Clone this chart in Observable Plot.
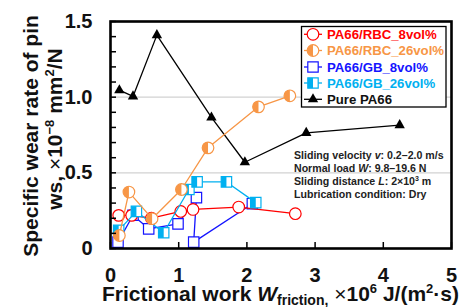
<!DOCTYPE html>
<html><head><meta charset="utf-8">
<script src="https://cdn.jsdelivr.net/npm/d3@7"></script>
<script src="https://cdn.jsdelivr.net/npm/@observablehq/plot@0.6"></script>
<style>
body{margin:0;background:#fff;}
#chart svg{display:block;}
</style>
</head><body><div id="chart"></div>
<script>
// ---- data ----
const seriesNames = ["PA66/RBC_8vol%", "PA66/RBC_26vol%", "PA66/GB_8vol%", "PA66/GB_26vol%", "Pure PA66"];
const seriesColors = ["#ff0000", "#f79646", "#1414ff", "#00b0f0", "#000000"];

const rbc8X  = [0.12, 0.31, 0.60, 1.03, 1.21, 1.88, 2.71];
const rbc8Y  = [0.219, 0.219, 0.200, 0.245, 0.258, 0.274, 0.230];
const rbc26X = [0.13, 0.27, 0.61, 1.04, 1.43, 2.17, 2.63];
const rbc26Y = [0.086, 0.373, 0.197, 0.390, 0.665, 0.936, 1.009];
const gb8X   = [0.11, 0.33, 0.56, 0.99, 1.26, 1.22, 2.08];
const gb8Y   = [0.042, 0.220, 0.130, 0.163, 0.336, 0.042, 0.296];
const gb26X  = [0.12, 0.38, 0.78, 1.15, 1.27, 1.70, 2.13];
const gb26Y  = [0.120, 0.245, 0.104, 0.390, 0.440, 0.440, 0.303];
const pureX  = [0.13, 0.33, 0.68, 1.48, 1.97, 2.87, 4.24];
const pureY  = [1.046, 1.005, 1.410, 0.866, 0.570, 0.764, 0.815];

const xTicks = [0, 1, 2, 3, 4, 5];
const yTicks = [0, 0.5, 1.0, 1.5];
const yTickLabels = ["0", "0.5", "1.0", "1.5"];
const yMinorTicks = [0, 0.1, 0.2, 0.3, 0.4, 0.5, 0.6, 0.7, 0.8, 0.9, 1.0, 1.1, 1.2, 1.3, 1.4, 1.5];
const gridY = [0.5, 1.0];

// ---- symbols ----
const rOf = s => Math.sqrt(s / Math.PI);
const circleFull = {draw(c, s){ const r = rOf(s); c.moveTo(r, 0); c.arc(0, 0, r, 0, 2*Math.PI); c.closePath(); }};
const circleLeft = {draw(c, s){ const r = rOf(s); c.moveTo(0, -r); c.arc(0, 0, r, -Math.PI/2, Math.PI/2, true); c.closePath(); }};
const squareFull = {draw(c, s){ const r = rOf(s); c.rect(-r, -r, 2*r, 2*r); }};
const squareLeft = {draw(c, s){ const r = rOf(s); c.rect(-r, -r, r, 2*r); }};
const triangle = {draw(c, s){ const r = rOf(s); const h = r*1.75, w = r*1.0;
  c.moveTo(0, -h*2/3); c.lineTo(w, h/3); c.lineTo(-w, h/3); c.closePath(); }};

const mk = (xs, ys, name) => xs.map((x, i) => ({x, y: ys[i], series: name, i}));
const rbc8 = mk(rbc8X, rbc8Y, seriesNames[0]);
const rbc26 = mk(rbc26X, rbc26Y, seriesNames[1]);
const gb8 = mk(gb8X, gb8Y, seriesNames[2]);
const gb26 = mk(gb26X, gb26Y, seriesNames[3]);
const pure = mk(pureX, pureY, seriesNames[4]);

const W = 469, H = 307;
const mL = 110, mR = 18, mT = 21, mB = 59;
const fw = W - mL - mR, fh = H - mT - mB;
const R = 5.2;

const lineOpts = c => ({x: "x", y: "y", stroke: c, strokeWidth: 1.3});

const plot = Plot.plot({
  width: W, height: H,
  marginLeft: mL, marginRight: mR, marginTop: mT, marginBottom: mB,
  x: {domain: [0, 5]},
  y: {domain: [0, 1.5]},
  style: {fontFamily: "Arial, 'Liberation Sans', sans-serif", background: "white"},
  marks: [
    Plot.ruleY(gridY, {y: d => d, stroke: "#d2d2d2", strokeWidth: 1.2}),
    // Pure PA66
    Plot.line(pure, lineOpts(seriesColors[4])),
    Plot.dot(pure, {x: "x", y: "y", r: R, symbol: triangle, fill: "black", stroke: "none"}),
    // GB 8
    Plot.line(gb8, lineOpts(seriesColors[2])),
    Plot.dot(gb8, {x: "x", y: "y", r: R, symbol: squareFull, fill: "white", stroke: seriesColors[2], strokeWidth: 1.2}),
    // RBC 8
    Plot.line(rbc8, lineOpts(seriesColors[0])),
    Plot.dot(rbc8, {x: "x", y: "y", r: R + 0.6, symbol: circleFull, fill: "white", stroke: seriesColors[0], strokeWidth: 1.2}),
    // GB 26
    Plot.line(gb26, lineOpts(seriesColors[3])),
    Plot.dot(gb26, {x: "x", y: "y", r: R, symbol: squareFull, fill: "white", stroke: seriesColors[3], strokeWidth: 1.2}),
    Plot.dot(gb26, {x: "x", y: "y", r: R, symbol: squareLeft, fill: seriesColors[3], stroke: "none"}),
    // RBC 26
    Plot.line(rbc26, lineOpts(seriesColors[1])),
    Plot.dot(rbc26, {x: "x", y: "y", r: R + 0.6, symbol: circleFull, fill: "white", stroke: seriesColors[1], strokeWidth: 1.2}),
    Plot.dot(rbc26, {x: "x", y: "y", r: R + 0.6, symbol: circleLeft, fill: seriesColors[1], stroke: "none"}),
    // ticks (inward)
    Plot.tickY(yMinorTicks, {y: d => d, stroke: "black", strokeWidth: 1.5, insetRight: fw - 6}),
    Plot.tickX(xTicks, {x: d => d, stroke: "black", strokeWidth: 1.5, insetTop: fh - 6}),
    Plot.frame({stroke: "black", strokeWidth: 2.6}),
    Plot.axisY({ticks: yTicks, tickSize: 0, tickPadding: 18, label: null,
      tickFormat: d => yTickLabels[yTicks.indexOf(d)], fontSize: 20, fontWeight: "bold", fill: "#111"}),
    Plot.axisX({ticks: xTicks, tickSize: 0, tickPadding: 19, label: null,
      tickFormat: d => String(d), fontSize: 20, fontWeight: "bold", fill: "#111"})
  ]
});
document.getElementById("chart").appendChild(plot);

const svg = d3.select(plot);
const FF = "Arial, 'Liberation Sans', sans-serif";

// Y title
svg.append("text").attr("transform", "translate(38,136) rotate(-90)")
  .attr("text-anchor", "middle").attr("font-family", FF).attr("font-size", 21).attr("font-weight", "bold").attr("fill", "#111")
  .text("Specific wear rate of pin");
const yt2 = svg.append("text").attr("transform", "translate(62,129) rotate(-90)")
  .attr("text-anchor", "middle").attr("font-family", FF).attr("font-size", 21).attr("font-weight", "bold").attr("fill", "#111");
yt2.append("tspan").text("ws, ");
yt2.append("tspan").attr("font-weight", "normal").text("×");
yt2.append("tspan").text("10");
yt2.append("tspan").attr("font-size", 13).attr("dy", -8).text("−8");
yt2.append("tspan").attr("dy", 8).text(" mm");
yt2.append("tspan").attr("font-size", 13).attr("dy", -8).text("2");
yt2.append("tspan").attr("dy", 8).text("/N");

// X title
const xt = svg.append("text").attr("x", mL + fw / 2).attr("y", 301)
  .attr("text-anchor", "middle").attr("font-family", FF).attr("font-size", 21).attr("font-weight", "bold").attr("fill", "#111");
xt.append("tspan").text("Frictional work ");
xt.append("tspan").attr("font-style", "italic").text("W");
xt.append("tspan").attr("font-size", 14).attr("dy", 4).text("friction,");
xt.append("tspan").attr("dy", -4).text(" ");
xt.append("tspan").attr("font-weight", "normal").text("×");
xt.append("tspan").text("10");
xt.append("tspan").attr("font-size", 13).attr("dy", -8).text("6");
xt.append("tspan").attr("dy", 8).text(" J/(m");
xt.append("tspan").attr("font-size", 13).attr("dy", -8).text("2");
xt.append("tspan").attr("dy", 8).text("·s)");

// Annotation
const ann = [
  [["Sliding velocity ", false], ["v", true], [": 0.2–2.0 m/s", false]],
  [["Normal load ", false], ["W", true], [": 9.8–19.6 N", false]],
  [["Sliding distance ", false], ["L", true], [": 2×10", false], ["3", "sup"], [" m", false]],
  [["Lubrication condition: Dry", false]]
];
ann.forEach((parts, k) => {
  const t = svg.append("text").attr("x", 294).attr("y", 159.3 + k * 12.8).attr("text-anchor", "start")
    .attr("font-family", FF).attr("font-size", 10.6).attr("font-weight", "bold").attr("fill", "#222");
  let sup = false;
  parts.forEach(([s, f]) => {
    const ts = t.append("tspan").text(s);
    if (f === true) ts.attr("font-style", "italic");
    if (f === "sup") { ts.attr("font-size", 7).attr("dy", -4); sup = true; }
    else if (sup) { ts.attr("dy", 4); sup = false; }
  });
});

// Legend
const lg = svg.append("g").attr("text-anchor", "start");
lg.append("rect").attr("x", 301.5).attr("y", 26.5).attr("width", 144.5).attr("height", 80.5)
  .attr("fill", "white").attr("stroke", "black").attr("stroke-width", 1.3);
const rowsY = [34.3, 50.5, 67, 83, 99.3];
const legendSyms = [
  [[circleFull, "white", true]],
  [[circleFull, "white", true], [circleLeft, "fill", false]],
  [[squareFull, "white", true]],
  [[squareFull, "white", true], [squareLeft, "fill", false]],
  [[triangle, "fill", false]]
];
const symPath = (sym, r) => { const p = d3.path(); sym.draw(p, r * r * Math.PI); return p.toString(); };
seriesNames.forEach((name, k) => {
  const cy = rowsY[k], c = seriesColors[k];
  lg.append("line").attr("x1", 304).attr("x2", 322).attr("y1", cy).attr("y2", cy).attr("stroke", c).attr("stroke-width", 1.3);
  const rr = (k === 0 || k === 1) ? R + 0.6 : R;
  legendSyms[k].forEach(([sym, fill, stroked]) => {
    lg.append("path").attr("d", symPath(sym, rr)).attr("transform", `translate(313,${cy})`)
      .attr("fill", fill === "fill" ? c : "white").attr("stroke", stroked ? c : "none").attr("stroke-width", 1.2);
  });
  lg.append("text").attr("x", 327).attr("y", cy + 4.7).attr("text-anchor", "start").attr("font-family", FF).attr("font-size", 13.2)
    .attr("font-weight", "bold").attr("fill", k === 4 ? "#111" : c).text(name);
});
</script>
</body></html>
